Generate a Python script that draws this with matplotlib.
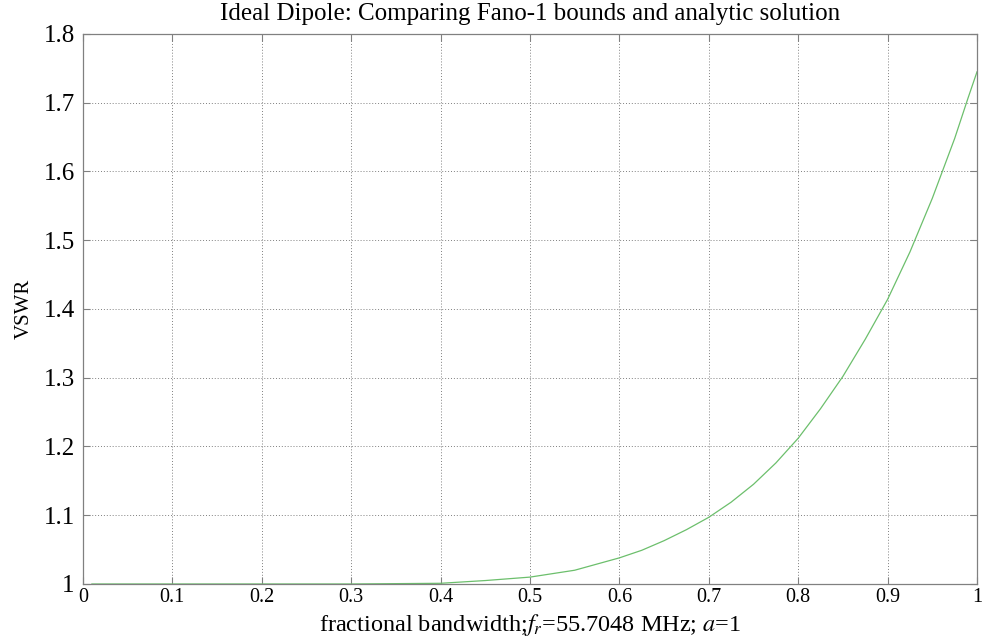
import matplotlib
matplotlib.use("Agg")
import matplotlib.pyplot as plt
from matplotlib.ticker import FuncFormatter

plt.rcParams['font.family'] = ['Liberation Serif', 'DejaVu Serif']
plt.rcParams['mathtext.fontset'] = 'stix'

bandwidth = [0.01, 0.1, 0.2, 0.3, 0.4, 0.45, 0.5, 0.55, 0.6, 0.625, 0.65, 0.675,
             0.7, 0.725, 0.75, 0.775, 0.8, 0.825, 0.85, 0.875, 0.9, 0.925, 0.95,
             0.975, 0.99, 1.0]
vswr = [1.0, 1.0, 1.0, 1.0, 1.001, 1.005, 1.010, 1.020, 1.038, 1.049, 1.063, 1.079,
        1.097, 1.119, 1.145, 1.176, 1.212, 1.255, 1.302, 1.356, 1.414, 1.483, 1.561,
        1.648, 1.707, 1.745]
xticks = [0, 0.1, 0.2, 0.3, 0.4, 0.5, 0.6, 0.7, 0.8, 0.9, 1]
yticks = [1, 1.1, 1.2, 1.3, 1.4, 1.5, 1.6, 1.7, 1.8]

fig = plt.figure(figsize=(9.84, 6.39), dpi=100)
ax = fig.add_axes([0.0843, 0.0861, 0.9086, 0.8607])
ax.plot(bandwidth, vswr, color='#6cbf6c', linewidth=0.9)
ax.set_xlim(0, 1)
ax.set_ylim(1, 1.8)
ax.set_xticks(xticks)
ax.set_yticks(yticks)
fmt = FuncFormatter(lambda v, p: ('%g' % round(v, 2)))
ax.xaxis.set_major_formatter(fmt)
ax.yaxis.set_major_formatter(fmt)
ax.tick_params(direction='in', length=5, width=0.8, color='#808080',
               top=True, right=True)
ax.tick_params(axis='x', labelsize=14.5, pad=3)
ax.tick_params(axis='y', labelsize=18, pad=6)
ax.grid(True, color='#808080', linestyle=(0, (1, 2)), linewidth=0.7)
for s in ax.spines.values():
    s.set_color('#808080')
    s.set_linewidth(0.9)
ax.set_title('Ideal Dipole: Comparing Fano-1 bounds and analytic solution',
             fontsize=18, pad=10)
ax.set_xlabel('fractional bandwidth;$f_r$=55.7048 MHz; $a$=1', fontsize=17.5,
              va='baseline')
ax.xaxis.set_label_coords(0.5, -0.0855)
ax.set_ylabel('VSWR', fontsize=15)
ax.yaxis.set_label_coords(-0.055, 0.5)
fig.savefig('out.png', dpi=100)
